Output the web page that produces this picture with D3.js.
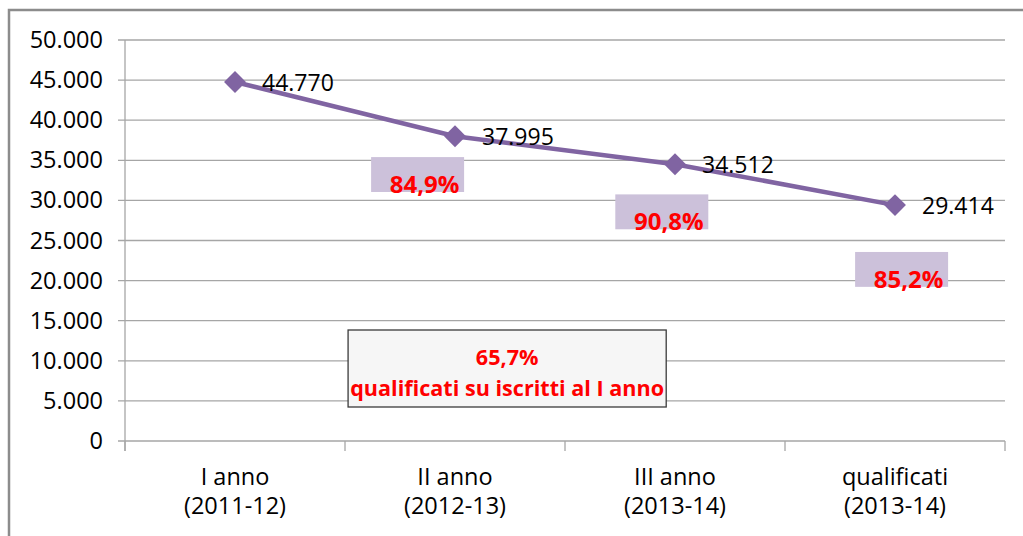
<!DOCTYPE html>
<html>
<head>
<meta charset="utf-8">
<script src="https://cdn.jsdelivr.net/npm/d3@7"></script>
<style>
  body { margin: 0; background: #ffffff; }
  svg { display: block; font-family: "Open Sans", "Liberation Sans", sans-serif; }
</style>
</head>
<body>
<script>
// data
var categories = ["I anno|(2011-12)", "II anno|(2012-13)", "III anno|(2013-14)", "qualificati|(2013-14)"];
var values = [44770, 37995, 34512, 29414];
var yTicks = [0, 5000, 10000, 15000, 20000, 25000, 30000, 35000, 40000, 45000, 50000];
var ratioLabels = ["84,9%", "90,8%", "85,2%"];
var totalLabel = ["65,7%", "qualificati su iscritti al I anno"];

var width = 1023, height = 536;
var margin = {left: 125, right: 18, top: 40, bottom: 95};

var svg = d3.select("body").append("svg").attr("width", width).attr("height", height);

// outer chart frame
svg.append("rect")
    .attr("x", 9).attr("y", 10)
    .attr("width", 1040).attr("height", 560)
    .attr("fill", "#ffffff")
    .attr("stroke", "#8c8c8c")
    .attr("stroke-width", 2.5);

var x = d3.scaleBand().domain(categories).range([margin.left, width - margin.right]);
var y = d3.scaleLinear().domain([0, 50000]).range([height - margin.bottom, margin.top]);
// position along category index (0 = centre of first category)
var xi = d3.scaleLinear().domain([0, 1]).range([x(categories[0]) + x.bandwidth() / 2, x(categories[1]) + x.bandwidth() / 2]);

var it = d3.formatLocale({decimal: ",", thousands: ".", grouping: [3], currency: ["€", ""]});
var fmt = it.format(",d");

var chartGroup = svg.append("g");

// gridlines
chartGroup.append("g").selectAll("line")
    .data(yTicks).enter().append("line")
    .attr("x1", margin.left - 7).attr("x2", width - margin.right)
    .attr("y1", function(d){ return y(d); }).attr("y2", function(d){ return y(d); })
    .attr("stroke", "#a6a6a6").attr("stroke-width", 1.3);

// y axis
var yAxis = chartGroup.append("g")
    .attr("transform", "translate(" + margin.left + ",0)")
    .call(d3.axisLeft(y).tickValues(yTicks).tickFormat(fmt).tickSize(0).tickPadding(22));
yAxis.select(".domain").attr("stroke", "#a6a6a6").attr("stroke-width", 1.3)
    .attr("d", "M0," + y(50000) + "V" + (y(0) + 10));
yAxis.selectAll("text").attr("font-size", "23.5px").attr("fill", "#000").attr("font-family", "Open Sans");

// x axis category tick marks
var bounds = categories.map(function(c){ return x(c); }).concat([x(categories[3]) + x.bandwidth()]);
chartGroup.append("g").selectAll("line")
    .data(bounds).enter().append("line")
    .attr("x1", function(d){ return d; }).attr("x2", function(d){ return d; })
    .attr("y1", y(0)).attr("y2", y(0) + 10)
    .attr("stroke", "#a6a6a6").attr("stroke-width", 1.3);

// category labels
var catText = chartGroup.append("g").selectAll("text")
    .data(categories).enter().append("text")
    .attr("text-anchor", "middle")
    .attr("font-size", "23.5px")
    .attr("fill", "#000");
catText.append("tspan")
    .attr("x", function(d){ return x(d) + x.bandwidth() / 2; })
    .attr("y", y(0) + 44)
    .text(function(d){ return d.split("|")[0]; });
catText.append("tspan")
    .attr("x", function(d){ return x(d) + x.bandwidth() / 2; })
    .attr("y", y(0) + 73)
    .text(function(d){ return d.split("|")[1]; });

// ratio boxes between steps
var boxPos = [0.83, 1.94, 3.03];
var boxTop = [35400, 30750, 23570];
var boxH = 4350;
var boxW = 93;
var ratioG = chartGroup.append("g").selectAll("g")
    .data(ratioLabels).enter().append("g");
ratioG.append("rect")
    .attr("x", function(d, i){ return xi(boxPos[i]) - boxW / 2; })
    .attr("y", function(d, i){ return y(boxTop[i]); })
    .attr("width", boxW)
    .attr("height", function(d, i){ return y(boxTop[i] - boxH) - y(boxTop[i]); })
    .attr("fill", "#ccc1da");
ratioG.append("text")
    .attr("x", function(d, i){ return xi(boxPos[i]) + 7; })
    .attr("y", function(d, i){ return y(boxTop[i] - boxH) + 1; })
    .attr("text-anchor", "middle")
    .attr("font-size", "24px")
    .attr("font-weight", "bold")
    .attr("fill", "#ff0000")
    .text(function(d){ return d; });

// summary box
var sumX0 = xi(0.514), sumX1 = xi(1.96);
var sumTop = 13840, sumBottom = 4240;
chartGroup.append("rect")
    .attr("x", sumX0).attr("y", y(sumTop))
    .attr("width", sumX1 - sumX0).attr("height", y(sumBottom) - y(sumTop))
    .attr("fill", "#f6f6f6")
    .attr("stroke", "#3a3a3a")
    .attr("stroke-width", 1.3);
chartGroup.append("g").selectAll("text")
    .data(totalLabel).enter().append("text")
    .attr("x", (sumX0 + sumX1) / 2)
    .attr("y", function(d, i){ return y(sumTop) + 35 + i * 31; })
    .attr("text-anchor", "middle")
    .attr("font-size", "21.6px")
    .attr("font-weight", "bold")
    .attr("fill", "#ff0000")
    .text(function(d){ return d; });

// series line
var line = d3.line()
    .x(function(d, i){ return x(categories[i]) + x.bandwidth() / 2; })
    .y(function(d){ return y(d); });
chartGroup.append("path")
    .attr("fill", "none")
    .attr("stroke", "#8064a2")
    .attr("stroke-width", 4.5)
    .attr("d", line(values));

// diamond markers
chartGroup.append("g").selectAll("path")
    .data(values).enter().append("path")
    .attr("d", d3.symbol().type(d3.symbolSquare).size(240))
    .attr("transform", function(d, i){
        return "translate(" + (x(categories[i]) + x.bandwidth() / 2) + "," + y(d) + ") rotate(45)";
    })
    .attr("fill", "#8064a2");

// data labels
chartGroup.append("g").selectAll("text")
    .data(values).enter().append("text")
    .attr("x", function(d, i){ return x(categories[i]) + x.bandwidth() / 2 + 27; })
    .attr("y", function(d){ return y(d) + 9; })
    .attr("font-size", "23px")
    .attr("fill", "#000")
    .text(function(d){ return fmt(d); });
</script>
</body>
</html>
